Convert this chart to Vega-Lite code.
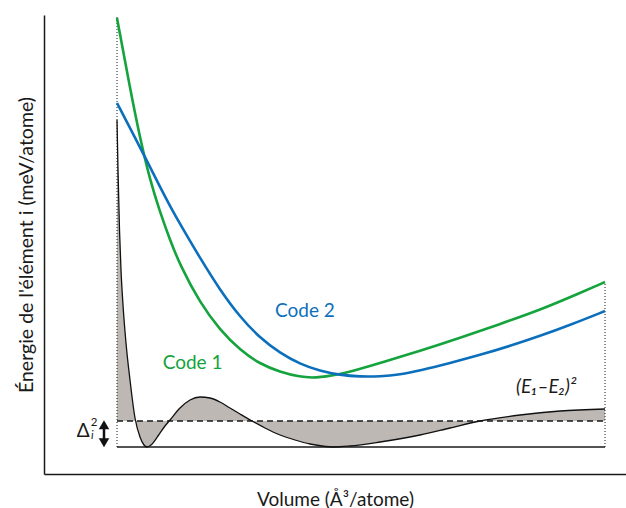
{
  "$schema": "https://vega.github.io/schema/vega-lite/v6.json",
  "width": 582,
  "height": 459,
  "autosize": {"type": "none"},
  "padding": {"top": 15, "left": 44, "right": 0, "bottom": 34},
  "background": "white",
  "config": {"view": {"stroke": null}, "font": "Lato"},
  "encoding": {
    "x": {
      "field": "x", "type": "quantitative",
      "scale": {"domain": [0, 582], "nice": false, "zero": false},
      "axis": {"title": "Volume (Å³/atome)", "labels": false, "ticks": false, "grid": false,
        "domainColor": "#1a1a1a", "domainWidth": 1.5, "titleFont": "Lato", "titleFontSize": 19,
        "titleFontWeight": "normal", "titleColor": "#1a1a1a", "titlePadding": 16}
    },
    "y": {
      "field": "y", "type": "quantitative",
      "scale": {"domain": [0, 459], "nice": false, "zero": false},
      "axis": {"title": "Énergie de l'élément i (meV/atome)", "labels": false, "ticks": false, "grid": false,
        "domainColor": "#1a1a1a", "domainWidth": 1.5, "titleFont": "Lato", "titleFontSize": 19.5,
        "titleFontWeight": "normal", "titleColor": "#1a1a1a", "titlePadding": 8}
    }
  },
  "datasets": {
    "diff": [
      {"x": 73, "y": 354}, {"x": 74, "y": 304}, {"x": 75.5, "y": 244}, {"x": 77, "y": 204},
      {"x": 79, "y": 169}, {"x": 82, "y": 131}, {"x": 86, "y": 94}, {"x": 91, "y": 56},
      {"x": 96, "y": 37}, {"x": 100, "y": 29}, {"x": 103, "y": 27}, {"x": 107, "y": 29},
      {"x": 114, "y": 38}, {"x": 121, "y": 48}, {"x": 126, "y": 54}, {"x": 136, "y": 66},
      {"x": 146, "y": 74}, {"x": 156, "y": 77}, {"x": 166, "y": 76}, {"x": 176, "y": 72},
      {"x": 186, "y": 66}, {"x": 196, "y": 60}, {"x": 208, "y": 53}, {"x": 221, "y": 46},
      {"x": 236, "y": 39}, {"x": 251, "y": 34}, {"x": 266, "y": 30}, {"x": 278, "y": 28},
      {"x": 290, "y": 27}, {"x": 306, "y": 28}, {"x": 336, "y": 32}, {"x": 376, "y": 39},
      {"x": 406, "y": 46}, {"x": 436, "y": 53}, {"x": 476, "y": 59}, {"x": 516, "y": 63},
      {"x": 561, "y": 65}
    ],
    "curves": [
      {"s": "Code 1", "x": 73, "y": 456}, {"s": "Code 1", "x": 86, "y": 386}, {"s": "Code 1", "x": 96, "y": 336},
      {"s": "Code 1", "x": 106, "y": 294}, {"s": "Code 1", "x": 116, "y": 262}, {"s": "Code 1", "x": 126, "y": 234},
      {"s": "Code 1", "x": 136, "y": 209}, {"s": "Code 1", "x": 156, "y": 171}, {"s": "Code 1", "x": 176, "y": 144},
      {"s": "Code 1", "x": 196, "y": 124}, {"s": "Code 1", "x": 216, "y": 110}, {"s": "Code 1", "x": 236, "y": 102},
      {"s": "Code 1", "x": 256, "y": 97}, {"s": "Code 1", "x": 271, "y": 96}, {"s": "Code 1", "x": 293, "y": 99},
      {"s": "Code 1", "x": 316, "y": 105}, {"s": "Code 1", "x": 336, "y": 111}, {"s": "Code 1", "x": 376, "y": 123},
      {"s": "Code 1", "x": 416, "y": 136}, {"s": "Code 1", "x": 456, "y": 150}, {"s": "Code 1", "x": 496, "y": 164},
      {"s": "Code 1", "x": 536, "y": 181}, {"s": "Code 1", "x": 561, "y": 192},
      {"s": "Code 2", "x": 73, "y": 371}, {"s": "Code 2", "x": 86, "y": 346}, {"s": "Code 2", "x": 101, "y": 317},
      {"s": "Code 2", "x": 116, "y": 287}, {"s": "Code 2", "x": 126, "y": 268}, {"s": "Code 2", "x": 136, "y": 250},
      {"s": "Code 2", "x": 156, "y": 216}, {"s": "Code 2", "x": 176, "y": 184}, {"s": "Code 2", "x": 196, "y": 157},
      {"s": "Code 2", "x": 216, "y": 136}, {"s": "Code 2", "x": 236, "y": 121}, {"s": "Code 2", "x": 256, "y": 110},
      {"s": "Code 2", "x": 276, "y": 103}, {"s": "Code 2", "x": 296, "y": 99}, {"s": "Code 2", "x": 316, "y": 97.3},
      {"s": "Code 2", "x": 336, "y": 97.5}, {"s": "Code 2", "x": 356, "y": 99.5}, {"s": "Code 2", "x": 376, "y": 103.5},
      {"s": "Code 2", "x": 406, "y": 111}, {"s": "Code 2", "x": 436, "y": 119}, {"s": "Code 2", "x": 466, "y": 128},
      {"s": "Code 2", "x": 496, "y": 138}, {"s": "Code 2", "x": 526, "y": 149}, {"s": "Code 2", "x": 561, "y": 163}
    ]
  },
  "layer": [
    {
      "data": {"name": "diff"},
      "mark": {"type": "area", "interpolate": "monotone", "color": "#bdb8b4"},
      "encoding": {"y2": {"datum": 53}}
    },
    {
      "data": {"values": [{"x": 73, "x2": 561, "y": 53}]},
      "mark": {"type": "rule", "color": "#1a1a1a", "strokeWidth": 1.5, "strokeDash": [6, 4]},
      "encoding": {"x2": {"field": "x2"}}
    },
    {
      "data": {"values": [{"x": 73, "x2": 561, "y": 27}]},
      "mark": {"type": "rule", "color": "#1a1a1a", "strokeWidth": 1.5},
      "encoding": {"x2": {"field": "x2"}}
    },
    {
      "data": {"values": [{"x": 73, "y": 27, "y2": 459}, {"x": 561, "y": 27, "y2": 192}]},
      "mark": {"type": "rule", "color": "#1a1a1a", "strokeWidth": 1, "strokeDash": [1, 2]},
      "encoding": {"y2": {"field": "y2"}}
    },
    {
      "data": {"name": "diff"},
      "mark": {"type": "line", "interpolate": "monotone", "color": "#111111", "strokeWidth": 1.3}
    },
    {
      "data": {"name": "curves"},
      "mark": {"type": "line", "interpolate": "basis", "strokeWidth": 2.6},
      "encoding": {
        "color": {"field": "s", "type": "nominal", "legend": null,
          "scale": {"domain": ["Code 1", "Code 2"], "range": ["#14a33c", "#0b6fbc"]}}
      }
    },
    {
      "data": {"values": [{"x": 231, "y": 157, "label": "Code 2"}]},
      "mark": {"type": "text", "align": "left", "baseline": "alphabetic", "fontSize": 19, "color": "#0b6fbc"},
      "encoding": {"text": {"field": "label"}}
    },
    {
      "data": {"values": [{"x": 118.7, "y": 105, "label": "Code 1"}]},
      "mark": {"type": "text", "align": "left", "baseline": "alphabetic", "fontSize": 19, "color": "#14a33c"},
      "encoding": {"text": {"field": "label"}}
    },
    {
      "data": {"values": [{"x": 472, "y": 81.3, "label": "(E₁–E₂)²"}]},
      "mark": {"type": "text", "align": "left", "baseline": "alphabetic", "fontSize": 19, "fontStyle": "italic", "color": "#1a1a1a"},
      "encoding": {"text": {"field": "label"}}
    },
    {
      "data": {"values": [{"x": 32.7, "y": 37, "label": "Δ"}]},
      "mark": {"type": "text", "align": "left", "baseline": "alphabetic", "fontSize": 19, "color": "#1a1a1a"},
      "encoding": {"text": {"field": "label"}}
    },
    {
      "data": {"values": [{"x": 46.7, "y": 48, "label": "2"}]},
      "mark": {"type": "text", "align": "left", "baseline": "alphabetic", "fontSize": 11.5, "color": "#1a1a1a"},
      "encoding": {"text": {"field": "label"}}
    },
    {
      "data": {"values": [{"x": 47, "y": 35, "label": "i"}]},
      "mark": {"type": "text", "align": "left", "baseline": "alphabetic", "fontSize": 11.5, "fontStyle": "italic", "color": "#1a1a1a"},
      "encoding": {"text": {"field": "label"}}
    },
    {
      "data": {"values": [{"x": 60, "y": 31, "y2": 49}]},
      "mark": {"type": "rule", "color": "#111111", "strokeWidth": 2.5},
      "encoding": {"y2": {"field": "y2"}}
    },
    {
      "data": {"values": [{"x": 60, "y": 49.2}]},
      "mark": {"type": "point", "shape": "triangle-up", "size": 110, "filled": true, "color": "#111111", "opacity": 1}
    },
    {
      "data": {"values": [{"x": 60, "y": 31.3}]},
      "mark": {"type": "point", "shape": "triangle-down", "size": 110, "filled": true, "color": "#111111", "opacity": 1}
    }
  ]
}
